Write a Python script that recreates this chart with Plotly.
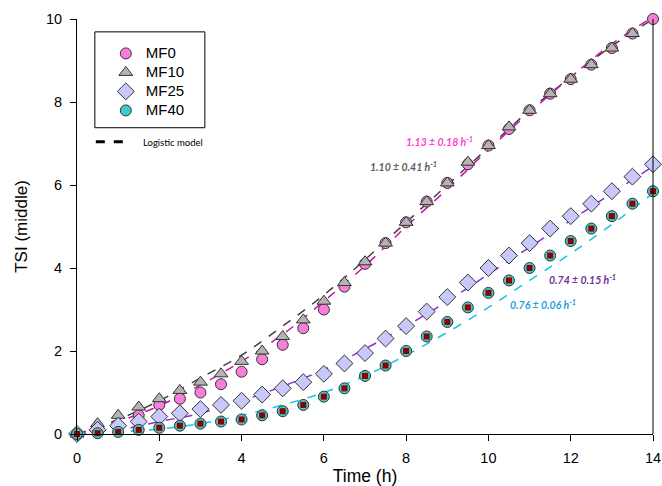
import plotly.graph_objects as go

t = [0, 0.5, 1, 1.5, 2, 2.5, 3, 3.5, 4, 4.5, 5, 5.5, 6, 6.5, 7, 7.5, 8, 8.5, 9, 9.5, 10, 10.5, 11, 11.5, 12, 12.5, 13, 13.5, 14]
mf0 = [0, 0.1, 0.2, 0.45, 0.7, 0.85, 1.0, 1.2, 1.5, 1.8, 2.15, 2.55, 3.0, 3.55, 4.1, 4.6, 5.1, 5.6, 6.05, 6.5, 6.95, 7.35, 7.8, 8.2, 8.55, 8.9, 9.3, 9.65, 10.0]
mf10 = [0, 0.25, 0.45, 0.65, 0.85, 1.05, 1.25, 1.45, 1.75, 2.0, 2.35, 2.75, 3.2, 3.65, 4.15, 4.6, 5.1, 5.6, 6.05, 6.55, 6.95, 7.4, 7.8, 8.2, 8.55, 8.9, 9.3, 9.65]
mf25 = [0, 0.1, 0.2, 0.3, 0.42, 0.5, 0.6, 0.7, 0.8, 0.95, 1.1, 1.25, 1.45, 1.7, 1.95, 2.3, 2.6, 2.95, 3.3, 3.65, 4.0, 4.3, 4.6, 4.95, 5.25, 5.55, 5.85, 6.2, 6.5]
mf40 = [0, 0.02, 0.05, 0.1, 0.15, 0.2, 0.25, 0.3, 0.35, 0.45, 0.55, 0.7, 0.9, 1.1, 1.4, 1.65, 2.0, 2.35, 2.7, 3.05, 3.4, 3.7, 4.0, 4.3, 4.65, 4.95, 5.25, 5.55, 5.85]

tm = [0, 1, 2, 3, 4, 5, 6, 7, 8, 9, 10, 11, 12, 13, 14]
model_mf0 = [0, 0.3, 0.68, 1.18, 1.75, 2.4, 3.2, 4.05, 5.0, 5.9, 6.85, 7.75, 8.6, 9.4, 10.05]
model_mf10 = [0, 0.35, 0.8, 1.35, 1.9, 2.6, 3.35, 4.2, 5.1, 6.0, 6.9, 7.8, 8.6, 9.35, 10.0]
model_mf25 = [0, 0.1, 0.3, 0.5, 0.8, 1.15, 1.55, 2.05, 2.6, 3.2, 3.85, 4.5, 5.15, 5.8, 6.45]
model_mf40 = [0, 0.05, 0.12, 0.25, 0.45, 0.7, 1.0, 1.4, 1.9, 2.45, 3.05, 3.7, 4.35, 5.05, 5.8]

rates = ["1.13 ± 0.18 h<sup>-1</sup>", "1.10 ± 0.41 h<sup>-1</sup>", "0.74 ± 0.15 h<sup>-1</sup>", "0.76 ± 0.06 h<sup>-1</sup>"]
rate_pos = [(8.81, 7.05), (7.94, 6.45), (12.28, 3.72), (11.33, 3.12)]
rate_colors = ["#ff44cc", "#606060", "#7030a0", "#1fa0e0"]

fig = go.Figure()

# model curves
for ys, col in [(model_mf10, "#404040"), (model_mf0, "#cc10b0"), (model_mf25, "#8a2be2"), (model_mf40, "#19c3e0")]:
    fig.add_trace(go.Scatter(x=tm, y=ys, mode="lines", line=dict(color=col, width=1.5, dash="dash", shape="spline"),
                             showlegend=False, hoverinfo="skip"))

def lbl(s):
    return '<span style="font-size:15px">' + s + '</span>'

fig.add_trace(go.Scatter(x=t, y=mf0, mode="markers", name=lbl("MF0"), cliponaxis=False,
                         marker=dict(symbol="circle", size=11, color="#f77fd9", line=dict(color="#333333", width=1))))
fig.add_trace(go.Scatter(x=t[:len(mf10)], y=mf10, mode="markers", name=lbl("MF10"), cliponaxis=False,
                         marker=dict(symbol="triangle-up", size=12, color="#b4b4b4", line=dict(color="#333333", width=1))))
fig.add_trace(go.Scatter(x=t, y=mf25, mode="markers", name=lbl("MF25"), cliponaxis=False,
                         marker=dict(symbol="diamond", size=13, color="#c8c8fa", line=dict(color="#333333", width=1))))
fig.add_trace(go.Scatter(x=t, y=mf40, mode="markers", name=lbl("MF40"), cliponaxis=False,
                         marker=dict(symbol="circle", size=11, color="#3fc9cc", line=dict(color="#333333", width=1))))
fig.add_trace(go.Scatter(x=t, y=mf40, mode="markers", showlegend=False, cliponaxis=False, hoverinfo="skip",
                         marker=dict(symbol="square", size=6, color="#8b0000", line=dict(width=0))))

# legend entry for model
fig.add_trace(go.Scatter(x=[None], y=[None], mode="lines", name="\u00a0\u00a0\u00a0\u00a0\u00a0Logistic model", legend="legend2",
                         line=dict(color="black", width=3, dash="dash")))

for txt, (x, y), c in zip(rates, rate_pos, rate_colors):
    fig.add_annotation(x=x, y=y, text="<b><i>" + txt + "</i></b>", showarrow=False,
                       font=dict(size=10.5, color=c, family="Lato, Liberation Sans, Arial"))

fig.add_shape(type="line", xref="paper", yref="paper", x0=1, x1=1, y0=0, y1=1, line=dict(color="black", width=1))
fig.add_shape(type="rect", xref="paper", yref="paper", x0=0.031, x1=0.222, y0=0.738, y1=0.969,
              line=dict(color="black", width=1))

fig.update_layout(
    width=662, height=486,
    margin=dict(l=77, r=9, t=19, b=52, autoexpand=False),
    plot_bgcolor="white", paper_bgcolor="white",
    font=dict(family="Liberation Sans, Arial", color="black"),
    legend=dict(x=0.05, y=0.952, xanchor="left", yanchor="top", bgcolor="rgba(0,0,0,0)",
                font=dict(size=12), tracegroupgap=0, itemwidth=30),
    legend2=dict(x=0.024, y=0.739, xanchor="left", yanchor="top", bgcolor="rgba(0,0,0,0)",
                 font=dict(size=9.5, family="Lato, Liberation Sans")),
    xaxis=dict(range=[0, 14], tickvals=[0, 2, 4, 6, 8, 10, 12, 14], showgrid=False, zeroline=False,
               showline=True, linecolor="black", linewidth=1, ticks="outside", ticklen=6, tickcolor="black",
               ticklabelstandoff=5,
               tickfont=dict(size=14.5), title=dict(text="Time (h)", font=dict(size=17.5), standoff=8)),
    yaxis=dict(range=[0, 10], tickvals=[0, 2, 4, 6, 8, 10], showgrid=False, zeroline=False,
               showline=True, linecolor="black", linewidth=1, ticks="outside", ticklen=6, tickcolor="black",
               ticklabelstandoff=5,
               tickfont=dict(size=14.5), title=dict(text="TSI (middle)", font=dict(size=17), standoff=14)),
)

fig.write_html("out.html", config={"displayModeBar": False},
               post_script="document.body.style.margin='0px';")
